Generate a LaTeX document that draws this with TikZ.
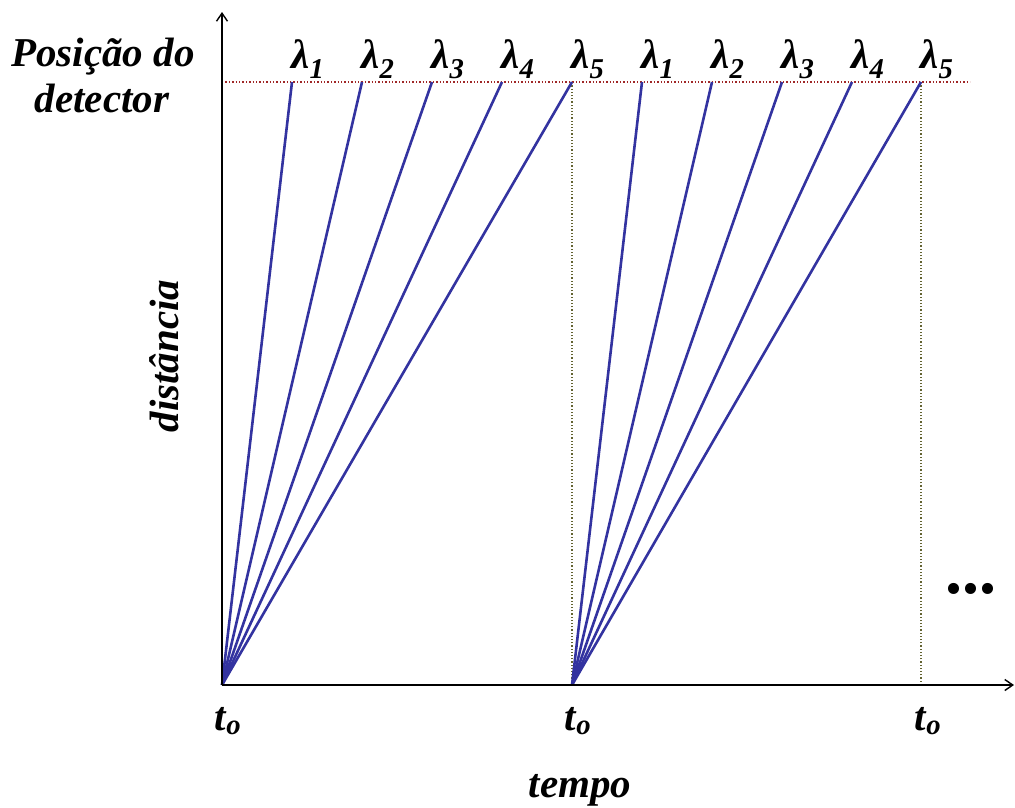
\documentclass[tikz,border=0pt]{standalone}
\usepackage{fontspec}
\setmainfont{Liberation Serif}
\usetikzlibrary{arrows.meta}
\definecolor{rayblue}{RGB}{51,51,160}
\definecolor{detred}{RGB}{160,40,40}
\definecolor{guideolive}{RGB}{100,100,50}
\tikzset{
  lbl/.style={font=\fontsize{41}{46}\selectfont\bfseries\itshape, inner sep=0pt},
  ray/.style={rayblue, line width=2.6pt},
  axis/.style={black, line width=1.4pt, -{Straight Barb[length=8pt,width=11pt]}},
  detline/.style={detred, line width=1.4pt, dotted},
  guide/.style={guideolive, line width=1.2pt, dotted}
}
\begin{document}
\begin{tikzpicture}[x=1pt,y=-1pt]
\useasboundingbox (0,0) rectangle (1015,807);
% origins
\coordinate (O1) at (222,685);
\coordinate (O2) at (572,685);
\coordinate (O3) at (921,685);
\coordinate (ytip) at (222,12);
\coordinate (xtip) at (1014,685);
\coordinate (dstart) at (222,82);
\coordinate (dend) at (970,82);
% detector line
\draw[detline] (dstart) -- (dend);
% guides
\coordinate (G2) at (572,82);
\coordinate (G3) at (921,82);
\draw[guide] (O2) -- (G2);
\draw[guide] (O3) -- (G3);
% rays group 1
\foreach \i/\x in {1/292,2/362,3/432,4/502,5/572}{
  \coordinate (A\i) at (\x,82);
  \draw[ray] (O1) -- (A\i);
  \node[lbl, anchor=base] (la\i) at (\x+16,68) {λ\textsubscript{\i}};
}
\foreach \i/\x in {1/642,2/712,3/782,4/852,5/921}{
  \coordinate (B\i) at (\x,82);
  \draw[ray] (O2) -- (B\i);
  \node[lbl, anchor=base] (lb\i) at (\x+16,68) {λ\textsubscript{\i}};
}
% axes
\draw[axis] (O1) -- (ytip);
\draw[axis] (O1) -- (xtip);
% labels
\node[lbl, anchor=base] (pos1) at (103,66) {Posição do};
\node[lbl, anchor=base] (pos2) at (102,112) {detector};
\node[lbl, anchor=base] (t1) at (228,730) {t\textsubscript{o}};
\node[lbl, anchor=base] (t2) at (578,730) {t\textsubscript{o}};
\node[lbl, anchor=base] (t3) at (928,730) {t\textsubscript{o}};
\node[lbl, anchor=base] (tempo) at (580,797) {tempo};
\node[lbl, rotate=90] (dist) at (164,356) {distância};
\node[lbl, font=\fontsize{68}{68}\selectfont\bfseries, anchor=base] (dots) at (971,593) {...};
\end{tikzpicture}
\end{document}
